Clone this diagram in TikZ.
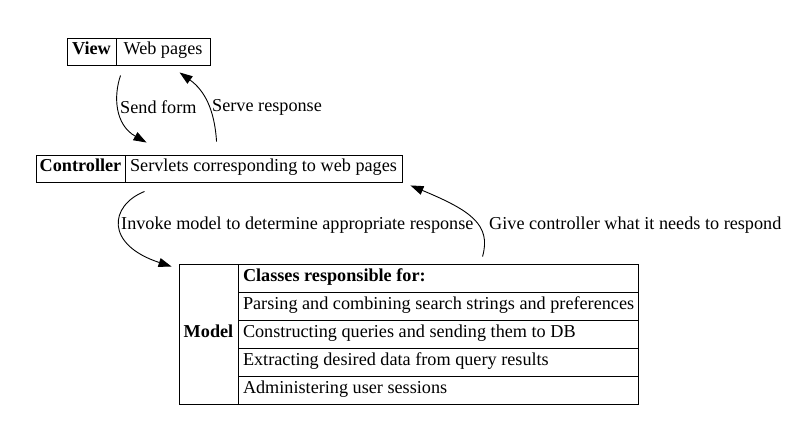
\documentclass[tikz,border=0pt]{standalone}
\usepackage{fontspec}
\setmainfont{Liberation Serif}
\usetikzlibrary{arrows.meta}
\begin{document}
\begin{tikzpicture}[x=1bp,y=-1bp,
  every node/.style={font=\fontsize{18.2bp}{21bp}\selectfont},
  cell/.style={draw, line width=0.9bp, inner sep=0pt, minimum height=27bp, text height=12bp, text depth=5bp},
  row/.style={draw, line width=0.9bp, inner sep=0pt, minimum width=400bp, minimum height=28bp, text height=12bp, text depth=5bp},
  lbl/.style={anchor=west, inner sep=0pt},
  arr/.style={line width=0.9bp, -{Triangle[length=13bp,width=9bp]}}]
\useasboundingbox (0,0) rectangle (791,436);
% View
\node[cell, minimum width=49bp] (vl) at (91.5,51.5) {\bfseries View};
\node[cell, minimum width=94bp] (vr) at (163,51.5) {Web pages};
% Controller
\node[cell, minimum width=89bp] (cl) at (80.5,168.5) {\bfseries Controller};
\node[cell, minimum width=277bp] (cr) at (263.5,168.5) {Servlets corresponding to web pages};
% Model
\node[cell, minimum width=59bp, minimum height=140bp] (ml) at (208.5,334) {\bfseries Model};
\node[row] (r1) at (438,278) {\makebox[390bp][l]{\bfseries Classes responsible for:}};
\node[row] (r2) at (438,306) {\makebox[390bp][l]{Parsing and combining search strings and preferences}};
\node[row] (r3) at (438,334) {\makebox[390bp][l]{Constructing queries and sending them to DB}};
\node[row] (r4) at (438,362) {\makebox[390bp][l]{Extracting desired data from query results}};
\node[row] (r5) at (438,390) {\makebox[390bp][l]{Administering user sessions}};
% connectors
\draw[arr] ([shift={(5,10)}]vr.south west) .. controls +(-7,20) and +(-32,-18) .. ([shift={(22,-12)}]cr.north west);
\draw[arr] ([shift={(92,-13)}]cr.north west) .. controls +(-2,-32) and +(25,18) .. ([shift={(64,7)}]vr.south west);
\draw[arr] ([shift={(20,9)}]cr.south west) .. controls +(-35,14) and +(-67,-22) .. ([shift={(-7,3)}]ml.north west);
\draw[arr] ([shift={(245,-7)}]r1.north west) .. controls +(9,-32) and +(60,25) .. ([shift={(8,3)}]cr.south east);
% labels
\node[lbl] (l1) at (120,107) {Send form};
\node[lbl] (l2) at (212,107) {Serve response};
\node[lbl] (l3) at (121,225) {Invoke model to determine appropriate response};
\node[lbl] (l4) at (489,225) {Give controller what it needs to respond};
\end{tikzpicture}
\end{document}
